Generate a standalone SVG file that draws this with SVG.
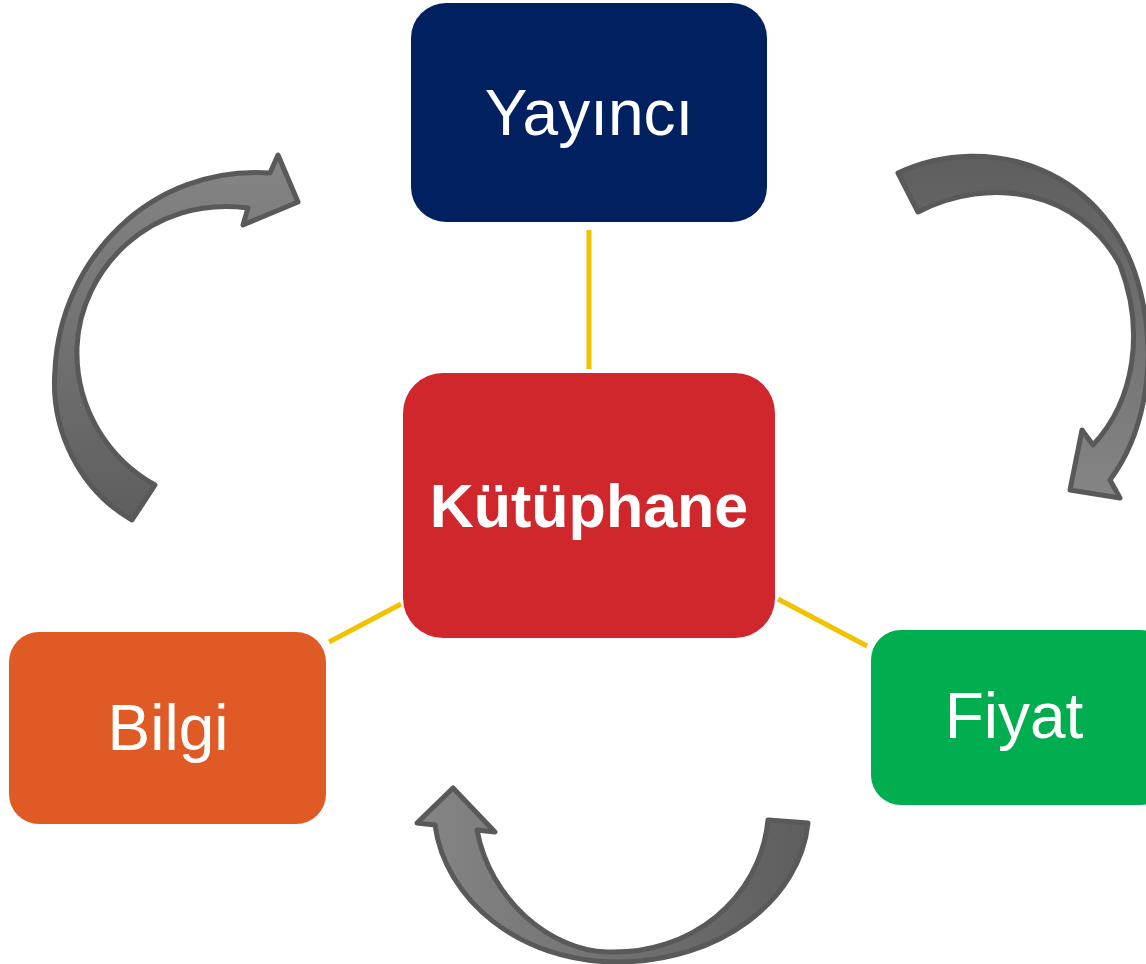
<svg xmlns="http://www.w3.org/2000/svg" width="1146" height="964" viewBox="0 0 1146 964">
<defs>
<linearGradient id="ga" x1="0" y1="0" x2="0" y2="1">
<stop offset="0" stop-color="#858585"/><stop offset="1" stop-color="#5e5e5e"/>
</linearGradient>
<linearGradient id="gb" x1="0" y1="1" x2="0" y2="0">
<stop offset="0" stop-color="#858585"/><stop offset="1" stop-color="#5e5e5e"/>
</linearGradient>
<linearGradient id="gc" x1="0" y1="0" x2="1" y2="0">
<stop offset="0" stop-color="#858585"/><stop offset="1" stop-color="#5e5e5e"/>
</linearGradient>
</defs>
<style>
.conn{stroke:#F2C200;stroke-width:5;fill:none}
.arr{stroke:#595959;stroke-width:5;stroke-linejoin:round}
.lbl{font-family:"Liberation Sans",Arial,sans-serif;fill:#fff;text-anchor:middle;dominant-baseline:central}
</style>
<rect width="1146" height="964" fill="#fff"/>
<g id="connectors">
<line class="conn" x1="589" y1="230" x2="589" y2="369"/>
<line class="conn" x1="401" y1="604" x2="329" y2="642"/>
<line class="conn" x1="778" y1="599" x2="867" y2="646"/>
</g>
<g id="cycle-arrows">
<path class="arr" fill="url(#ga)" d="M132 520 C80 490 50 430 55 370 C60 260 150 165 270 173 L278 155 L298 202 L243 225 L248 208 C150 195 80 270 77 347 C75 410 110 460 155 485 Z"/>
<path class="arr" fill="url(#gb)" d="M898 173 C990 130 1110 170 1140 290 C1160 370 1140 440 1110 480 L1120 498 L1070 490 L1082 430 L1093 445 C1135 400 1145 330 1120 265 C1080 190 990 175 918 212 Z"/>
<path class="arr" fill="url(#gc)" d="M768 820 L808 823 C800 900 720 962 617 962 C520 962 445 900 435 825 L417 823 L453 788 L495 832 L477 830 C490 900 550 950 607 952 C690 955 760 900 768 820 Z"/>
</g>
<g id="node-yayinci">
<rect x="411" y="3" width="356" height="219" rx="35" fill="#002060"/>
<text class="lbl" x="589" y="113" font-size="64">Yayıncı</text>
</g>
<g id="node-kutuphane">
<rect x="403" y="373" width="372" height="265" rx="40" fill="#D0272D"/>
<text class="lbl" x="589" y="506" font-size="61" font-weight="bold">Kütüphane</text>
</g>
<g id="node-bilgi">
<rect x="9" y="632" width="317" height="192" rx="30" fill="#DF5A24"/>
<text class="lbl" x="168" y="728" font-size="64">Bilgi</text>
</g>
<g id="node-fiyat">
<rect x="871" y="630" width="300" height="175" rx="30" fill="#00AE4F"/>
<text class="lbl" x="1014" y="716" font-size="64">Fiyat</text>
</g>
</svg>
